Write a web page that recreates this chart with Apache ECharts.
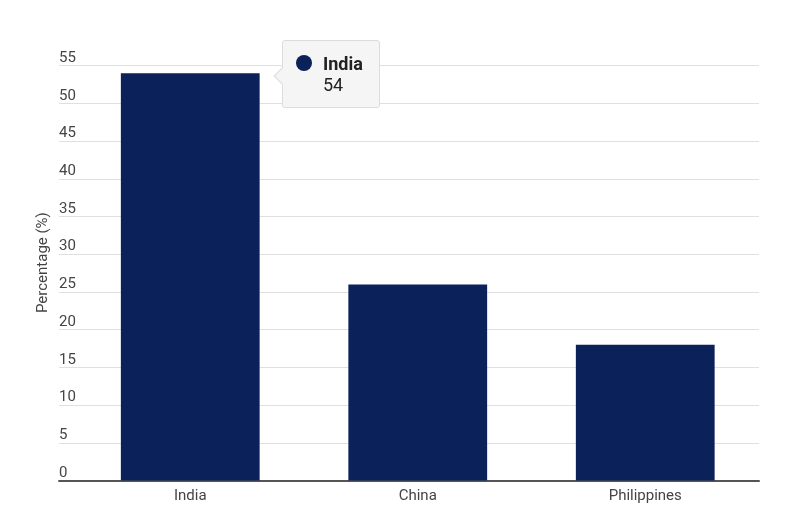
<!DOCTYPE html>
<html>
<head>
<meta charset="utf-8">
<script src="https://cdn.jsdelivr.net/npm/echarts@6/dist/echarts.min.js"></script>
<style>
  html, body { margin: 0; padding: 0; background: #ffffff; }
  #chart { width: 797px; height: 510px; }
  .tt::before {
    content: "";
    position: absolute;
    left: -7px;
    top: 29px;
    width: 11px;
    height: 11px;
    background: #f5f5f5;
    border-left: 1px solid #dcdcdc;
    border-bottom: 1px solid #dcdcdc;
    transform: rotate(45deg);
  }
</style>
</head>
<body>
<div id="chart"></div>
<script>
var categories = ['India', 'China', 'Philippines'];
var percentages = [54, 26, 18];
var yTicks = { min: 0, max: 55, interval: 5 };
var yTitle = 'Percentage (%)';
var highlightIndex = 0;

var FONT = 'Roboto, "Noto Sans", sans-serif';
var BAR = '#0a2259';

var chart = echarts.init(document.getElementById('chart'), null, { renderer: 'canvas' });

var option = {
  animation: false,
  backgroundColor: '#ffffff',
  textStyle: { fontFamily: FONT },
  grid: [
    { left: 76.5, right: 38, top: 65.7, bottom: 29.5 },
    { left: 59, right: 38, top: 65.7, bottom: 29.5 }
  ],
  xAxis: [
    {
      type: 'category',
      gridIndex: 0,
      data: categories,
      axisLine: { show: false },
      axisTick: { show: false },
      axisLabel: { color: '#444', fontSize: 15, fontFamily: FONT, margin: 8 }
    },
    {
      type: 'value',
      gridIndex: 1,
      min: 0,
      max: 1,
      axisLine: { show: true, lineStyle: { color: '#555', width: 2 } },
      axisTick: { show: false },
      axisLabel: { show: false },
      splitLine: { show: false }
    }
  ],
  yAxis: [
    {
      type: 'value',
      gridIndex: 0,
      min: yTicks.min,
      max: yTicks.max,
      interval: yTicks.interval,
      show: false
    },
    {
      type: 'value',
      gridIndex: 1,
      min: yTicks.min,
      max: yTicks.max,
      interval: yTicks.interval,
      name: yTitle,
      nameLocation: 'middle',
      nameGap: 8,
      nameRotate: 90,
      nameMoveOverlap: false,
      nameTextStyle: { color: '#444', fontSize: 15, fontFamily: FONT, padding: [0, 0, 0, 21] },
      axisLine: { show: false },
      axisTick: { show: false },
      axisLabel: {
        inside: true,
        margin: 0,
        align: 'left',
        verticalAlign: 'bottom',
        padding: [0, 0, 0, 0],
        color: '#444',
        fontSize: 15,
        fontFamily: FONT
      },
      splitLine: { show: true, lineStyle: { color: '#e0e0e0', width: 1 } }
    }
  ],
  tooltip: {
    trigger: 'item',
    triggerOn: 'none',
    alwaysShowContent: true,
    showDelay: 0,
    hideDelay: 0,
    transitionDuration: 0,
    className: 'tt',
    backgroundColor: '#f5f5f5',
    borderColor: '#dcdcdc',
    borderWidth: 1,
    borderRadius: 3,
    padding: [12, 16, 12, 13],
    extraCssText: 'box-shadow:none;',
    position: function () { return [282, 40]; },
    formatter: function (p) {
      return '<div style="display:flex;align-items:flex-start;font-family:Roboto, sans-serif;font-size:18px;line-height:21px;color:#222;">' +
        '<span style="display:inline-block;width:16px;height:16px;border-radius:8px;background:' + BAR + ';margin-top:2px;margin-right:11px;"></span>' +
        '<div><b style="font-weight:700;">' + p.name + '</b><br>' + p.value + '</div></div>';
    }
  },
  series: [
    {
      type: 'bar',
      xAxisIndex: 0,
      yAxisIndex: 0,
      data: percentages,
      barCategoryGap: '39%',
      itemStyle: { color: BAR },
      emphasis: { disabled: true }
    }
  ]
};

chart.setOption(option);
chart.dispatchAction({ type: 'showTip', seriesIndex: 0, dataIndex: highlightIndex });
</script>
</body>
</html>
